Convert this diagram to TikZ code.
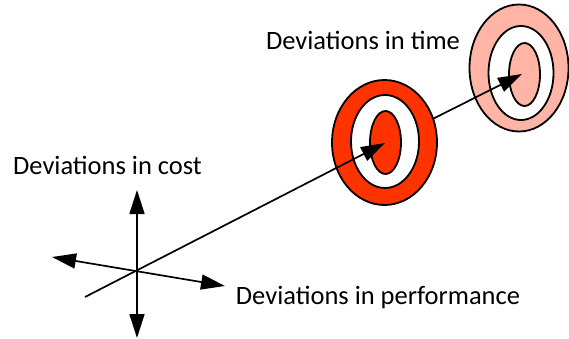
\documentclass[tikz,border=0pt]{standalone}
\usepackage{fontspec}
\setmainfont{Carlito}
\usetikzlibrary{arrows.meta}
\definecolor{tred}{RGB}{255,51,0}
\definecolor{tpink}{RGB}{255,180,165}
\begin{document}
\begin{tikzpicture}[x=1pt,y=-1pt,
  ring/.style={draw=black,line width=1.8pt},
  vec/.style={line width=1.7pt,-{Triangle[length=24pt,width=15pt]}},
  bivec/.style={line width=1.7pt,{Triangle[length=24pt,width=15pt]}-{Triangle[length=24pt,width=15pt]}},
  lbl/.style={font=\fontsize{26.5}{30}\selectfont,inner sep=0pt}]
\useasboundingbox (0,0) rectangle (569,339);
% coordinates
\coordinate (c) at (137,270);
\coordinate (top) at (137,190);
\coordinate (bot) at (137,338);
\coordinate (left) at (52,257);
\coordinate (right) at (225,286);
\coordinate (start) at (85,297);
\coordinate (redtip) at (385,143);
\coordinate (pinktip) at (522,74);
% pink target
\fill[tpink,ring] (519,68) ellipse [x radius=49.5, y radius=63.5];
\fill[white,ring] (521,73) ellipse [x radius=32.5, y radius=47];
\fill[tpink,ring] (524.5,74.5) ellipse [x radius=15.5, y radius=31.5];
% second leg
\draw[vec] (redtip) -- (pinktip);
% red target
\fill[tred,ring] (384.5,142.5) ellipse [x radius=52.5, y radius=62.5];
\fill[white,ring] (385,141.5) ellipse [x radius=34, y radius=46.5];
\fill[tred,ring] (385.5,142.5) ellipse [x radius=15.5, y radius=31.5];
% first leg
\draw[vec] (start) -- (redtip);
% cross
\draw[bivec] (top) -- (bot);
\draw[bivec] (left) -- (right);
% labels
\node[lbl] (cost) at (107.5,165) {Deviations in cost};
\node[lbl] (time) at (363,40) {Deviations in time};
\node[lbl] (perf) at (378,297) {Deviations in performance};
\end{tikzpicture}
\end{document}
